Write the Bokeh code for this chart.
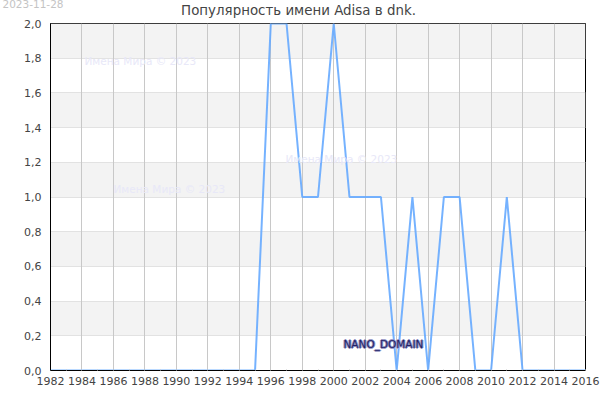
from bokeh.embed import file_html
from bokeh.models import FixedTicker, Label
from bokeh.plotting import figure
from bokeh.resources import INLINE

years = list(range(1982, 2017))
counts = [0, 0, 0, 0, 0, 0, 0, 0, 0, 0, 0, 0, 0, 0, 2, 2, 1, 1, 2, 1, 1, 1, 0, 1, 0, 1, 1, 0, 0, 1, 0, 0, 0, 0, 0]
x_ticks = list(range(1982, 2017, 2))
y_ticks = [0, 0.2, 0.4, 0.6, 0.8, 1.0, 1.2, 1.4, 1.6, 1.8, 2.0]
y_labels = ["0,0", "0,2", "0,4", "0,6", "0,8", "1,0", "1,2", "1,4", "1,6", "1,8", "2,0"]
title = "Популярность имени Adisa в dnk."
date_text = "2023-11-28"
watermark = "Имена Мира © 2023"
badge = "NANO_DOMAIN"

FONT = "DejaVu Sans"
LEFT, BOTTOM = 50, 370


def add_text(text, px, py, size, color, **kw):
    # screen units count from the frame corner, so convert from picture pixels
    p.add_layout(Label(x=px - LEFT, y=BOTTOM - py, x_units="screen", y_units="screen", text=text,
                       text_font=FONT, text_font_size=size, text_color=color,
                       text_baseline="middle", **kw))


def add_top_text(text, px, py, size, color, **kw):
    # labels inside the frame get clipped up here, so these go in the top panel
    p.add_layout(Label(x=px, y=py, x_units="canvas", y_units="canvas", text=text,
                       text_font=FONT, text_font_size=size, text_color=color,
                       text_baseline="middle", **kw), "above")


p = figure(width=600, height=400, output_backend="svg", toolbar_location=None,
           x_range=(1982, 2016), y_range=(0, 2),
           min_border_left=LEFT, min_border_right=15, min_border_top=23, min_border_bottom=30)

p.xaxis.ticker = FixedTicker(ticks=x_ticks, minor_ticks=years)
p.yaxis.ticker = FixedTicker(ticks=y_ticks)
p.yaxis.major_label_overrides = dict(zip(y_ticks, y_labels))
p.xaxis.major_label_overrides = {y: str(y) for y in x_ticks}

for ax in (p.xaxis, p.yaxis):
    ax.axis_line_color = "black"
    ax.axis_line_width = 1
    ax.major_tick_line_color = None
    ax.major_tick_out = 0
    ax.major_tick_in = 0
    ax.major_label_text_font = FONT
    ax.major_label_text_font_size = "11px"
    ax.major_label_text_color = "#444444"
p.xaxis.major_label_standoff = 6
p.yaxis.major_label_standoff = 9
p.yaxis.minor_tick_line_color = None
p.xaxis.minor_tick_line_color = "#c8c8c8"
p.xaxis.minor_tick_in = 1
p.xaxis.minor_tick_out = 0

p.outline_line_color = "black"
p.xgrid.grid_line_color = "#c8c8c8"
p.ygrid.grid_line_color = "#e2e2e2"
p.ygrid.band_fill_color = "#f3f3f3"
p.ygrid.band_fill_alpha = 1
p.ygrid.level = "image"

p.line(years, counts, line_color="#66aaff", line_width=2, line_alpha=0.9)

for wx, wy in [(84, 60), (113, 188), (285, 158)]:
    add_text(watermark, wx, wy, "10.5px", "#e8e8f8")

add_top_text(title, 298, 10, "13.4px", "#444444", text_align="center")
add_top_text(date_text, 2, 3, "10.5px", "#c4c4c4")

for dx, dy in [(-1, 0), (1, 0), (0, -1), (0, 1)]:
    add_text(badge, 343 + dx, 343 + dy, "10.5px", "#8f8fc0")
add_text(badge, 343, 343, "10.5px", "#222266")

open("out.html", "w").write(file_html(p, INLINE))
